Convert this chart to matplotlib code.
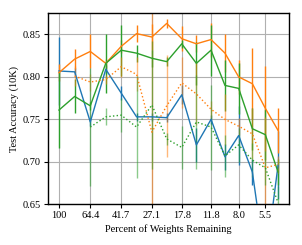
import numpy as np
import matplotlib
matplotlib.use("Agg")
import matplotlib.pyplot as plt

nan = np.nan
pct = [100, 80.2, 64.4, 51.8, 41.7, 33.6, 27.1, 22.0, 17.8, 14.5, 11.8, 9.7, 8.0, 6.6, 5.5, 4.6]
tick_vals = [100, 64.4, 41.7, 27.1, 17.8, 11.8, 8.0, 5.5]
tick_labels = ["100", "64.4", "41.7", "27.1", "17.8", "11.8", "8.0", "5.5"]

blue = [0.807, 0.806, 0.747, 0.809, 0.781, 0.753, 0.753, 0.752, 0.779, 0.720, 0.750, 0.706, 0.731, 0.688, 0.580, 0.696]
blue_err = [0.04, 0.005, 0.005, 0.005, 0.008, 0.005, 0.005, 0.005, 0.011, 0.02, 0.005, 0.015, 0.035, 0.015, 0.03, 0.04]

orange = [0.805, 0.821, 0.830, 0.816, 0.836, 0.851, 0.847, 0.863, 0.845, 0.839, 0.844, 0.828, 0.800, 0.792, 0.763, 0.737]
orange_err = [0.01, 0.012, 0.02, 0.005, 0.008, 0.01, 0.015, 0.005, 0.015, 0.01, 0.02, 0.022, 0.02, 0.042, 0.05, 0.026]

green = [0.761, 0.777, 0.766, 0.816, 0.8315, 0.828, 0.822, 0.818, 0.839, 0.816, 0.8315, 0.790, 0.7865, 0.739, 0.732, 0.688]
green_err = [0.045, 0.02, 0.005, 0.035, 0.03, 0.01, 0.01, 0.005, 0.005, 0.025, 0.03, 0.03, 0.03, 0.025, 0.03, 0.015]

orange_dot = [nan, 0.801, 0.794, 0.797, 0.812, 0.803, 0.735, 0.766, 0.793, 0.780, 0.762, 0.750, 0.742, 0.733, 0.693, 0.697]
orange_dot_err = [nan, 0.012, 0.01, 0.005, 0.012, 0.02, 0.14, 0.06, 0.03, 0.037, 0.01, 0.03, 0.01, 0.03, 0.06, 0.01]

green_dot = [nan, nan, 0.741, 0.753, 0.755, 0.741, 0.767, 0.727, 0.717, 0.747, 0.741, 0.707, 0.720, 0.702, 0.693, 0.652]
green_dot_err = [nan, nan, 0.07, 0.01, 0.02, 0.06, 0.075, 0.007, 0.025, 0.055, 0.05, 0.025, 0.02, 0.02, 0.02, 0.02]

plt.rcParams['font.family'] = ['Liberation Serif', 'DejaVu Serif']
plt.rcParams['font.size'] = 7.5

fig = plt.figure(figsize=(3.02, 2.45), dpi=100)
ax = fig.add_axes([0.159, 0.166, 0.798, 0.780])

series = [
    (blue, blue_err, '#1f77b4', '-', 1.0),
    (orange, orange_err, '#ff7f0e', '-', 1.0),
    (green, green_err, '#2ca02c', '-', 1.0),
    (orange_dot, orange_dot_err, '#ff7f0e', ':', 0.55),
    (green_dot, green_dot_err, '#2ca02c', ':', 0.55),
]
for y, e, c, ls, a in series:
    ax.errorbar(pct, y, yerr=e, color=c, ls='none', elinewidth=1.0, capsize=0, alpha=a, zorder=2)
for y, e, c, ls, a in series:
    ax.plot(pct, y, color=c, ls=ls, lw=1.0, zorder=3)

ax.set_xscale('log')
ax.invert_xaxis()
ax.set_xticks(tick_vals)
ax.set_xticklabels(tick_labels)
ax.xaxis.set_minor_locator(matplotlib.ticker.NullLocator())
ax.set_ylim(0.65, 0.875)
ax.set_yticks([0.65, 0.70, 0.75, 0.80, 0.85])
ax.grid(True, color='#b0b0b0', lw=0.8, zorder=0)
ax.set_axisbelow(True)
ax.tick_params(length=3, width=0.8, labelsize=7.5, pad=2)
for s in ax.spines.values():
    s.set_linewidth(1.0)
ax.set_xlabel('Percent of Weights Remaining', fontsize=7.5, labelpad=3)
ax.set_ylabel('Test Accuracy (10K)', fontsize=7.5, labelpad=3)

fig.savefig('out.png', dpi=100)
